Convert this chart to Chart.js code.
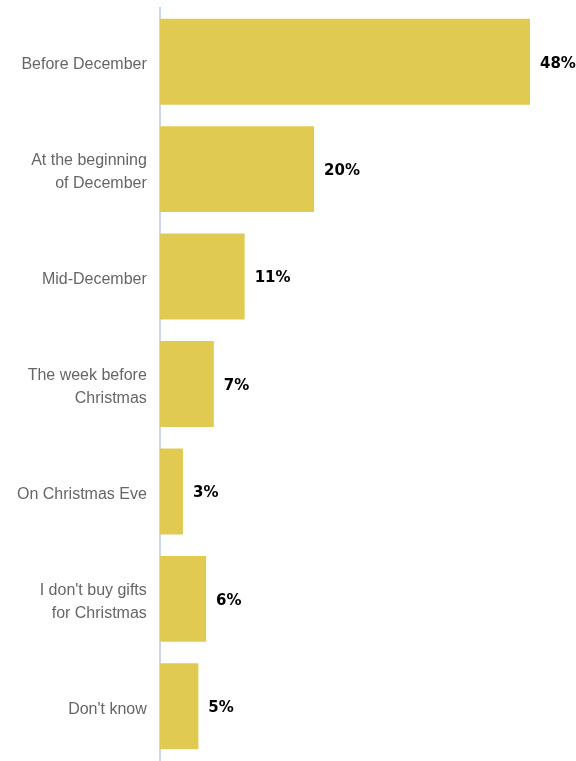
<!DOCTYPE html>
<html>
<head>
<meta charset="utf-8">
<script src="https://cdn.jsdelivr.net/npm/chart.js@4"></script>
<style>
  html, body { margin: 0; padding: 0; background: #fff; }
  #wrap { width: 576px; height: 761px; }
</style>
</head>
<body>
<div id="wrap"><canvas id="chart"></canvas></div>
<script>
const categories = [
    'Before December',
    ['At the beginning', 'of December'],
    'Mid-December',
    ['The week before', 'Christmas'],
    'On Christmas Eve',
    ["I don't buy gifts", 'for Christmas'],
    "Don't know"
];
const shares = [48, 20, 11, 7, 3, 6, 5];

// draws "48%" etc. right of each bar
const valueLabels = {
    id: 'valueLabels',
    afterDatasetsDraw(chart) {
        const ctx = chart.ctx;
        const meta = chart.getDatasetMeta(0);
        ctx.save();
        ctx.font = 'bold 15px "DejaVu Sans", sans-serif';
        ctx.fillStyle = '#000';
        ctx.textAlign = 'left';
        ctx.textBaseline = 'middle';
        meta.data.forEach((bar, i) => {
            ctx.fillText(shares[i] + '%', bar.x + 10, bar.y + 2);
        });
        ctx.restore();
    }
};

new Chart(document.getElementById('chart'), {
    type: 'bar',
    data: {
        labels: categories,
        datasets: [{
            data: shares,
            backgroundColor: '#e0ca52',
            borderWidth: 0,
            categoryPercentage: 1,
            barPercentage: 0.8
        }]
    },
    options: {
        indexAxis: 'y',
        responsive: true,
        maintainAspectRatio: false,
        animation: false,
        layout: { padding: { top: 8, right: 46, bottom: 1, left: 4 } },
        plugins: {
            legend: { display: false },
            tooltip: { enabled: false }
        },
        scales: {
            x: {
                display: false,
                min: 0,
                max: 48
            },
            y: {
                grid: { display: false, drawTicks: false },
                border: { display: true, color: '#ccd6eb', width: 2 },
                ticks: {
                    color: '#666666',
                    padding: 13,
                    labelOffset: 3,
                    font: { family: '"Liberation Sans", Arial, sans-serif', size: 16, lineHeight: 1.45 }
                },
                afterFit(scale) {
                    scale.paddingTop = 0;
                    scale.paddingBottom = 0;
                }
            }
        }
    },
    plugins: [valueLabels]
});
</script>
</body>
</html>
